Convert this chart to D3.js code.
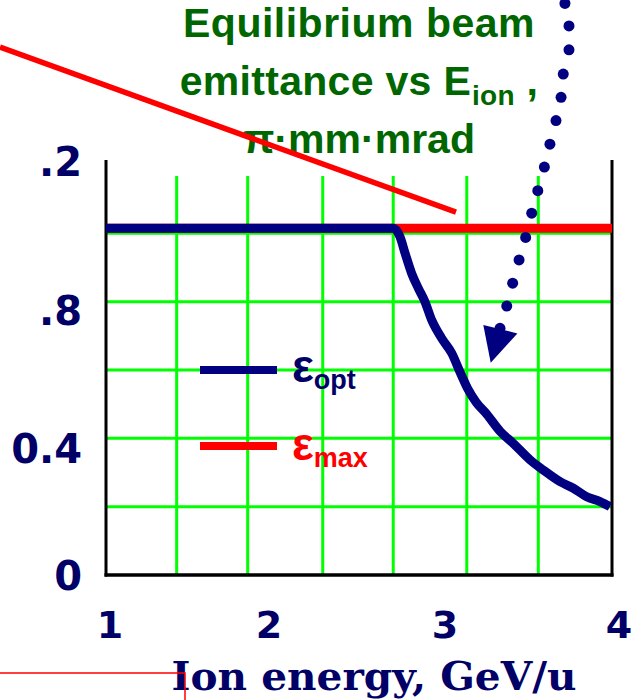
<!DOCTYPE html>
<html>
<head>
<meta charset="utf-8">
<script src="https://cdnjs.cloudflare.com/ajax/libs/d3/7.8.5/d3.min.js"></script>
<style>
  html, body { margin: 0; padding: 0; background: #ffffff; }
  svg { display: block; }
</style>
</head>
<body>
<div id="chart"></div>
<script>
// ---------------- DATA ----------------
const xTickValues = [1, 2, 3, 4];
const xTickLabels = ["1", "2", "3", "4"];
const yTickValues = [0, 0.4, 0.8, 1.2];
const yTickLabels = ["0", "0.4", ".8", ".2"];

const gridXValues = [1.419, 1.840, 2.285, 2.703, 3.139, 3.563];
const gridYValues = [0.2, 0.4, 0.6, 0.8, 1.0];

// epsilon_opt curve (GeV/u, pi*mm*mrad)
const optEnergy = [1.000, 2.702, 2.743, 2.773, 2.812, 2.852, 2.891, 2.931, 2.990, 3.050, 3.099, 3.146,
                   3.194, 3.257, 3.336, 3.415, 3.514, 3.593, 3.692, 3.771, 3.850, 3.929, 3.988];
const optEmittance = [1.015, 1.015, 0.990, 0.942, 0.883, 0.839, 0.800, 0.746, 0.693, 0.649, 0.594, 0.544,
                      0.506, 0.471, 0.421, 0.385, 0.337, 0.307, 0.273, 0.254, 0.229, 0.215, 0.200];

// epsilon_max
const maxEnergy = [1.0, 4.0];
const maxEmittance = [1.015, 1.015];

// red pointer line (annotation, in data units)
const pointerEnergy = [0.3715, 3.075];
const pointerEmittance = [1.545, 1.062];

// dotted arrow (annotation, in data units)
const dotEnergy = [3.721, 3.745, 3.745, 3.711, 3.698, 3.668, 3.632, 3.599, 3.560, 3.524, 3.488, 3.449, 3.411, 3.376, 3.336];
const dotEmittance = [1.673, 1.607, 1.537, 1.466, 1.398, 1.330, 1.261, 1.194, 1.125, 1.059, 0.988, 0.922, 0.854, 0.787, 0.722];
const headEnergy = [3.237, 3.439, 3.281];
const headEmittance = [0.732, 0.707, 0.621];

const titleLines = ["Equilibrium beam", "emittance vs E", "π·mm·mrad"];
const titleSub = "ion";
const xTitle = "Ion energy, GeV/u";
const legendNames = ["ε", "ε"];
const legendSubs = ["opt", "max"];

// ---------------- LAYOUT ----------------
const W = 635, H = 700;
const mLeft = 106, mRight = 612, mBottom = 575, mTop = 165, gridTop = 176, axisTop = 160;
const NAVY = "#000080", TEXTNAVY = "#000066", GREEN_T = "#006600", GRID = "#00ff00", RED = "#ff0000";

const svg = d3.select("#chart").append("svg").attr("width", W).attr("height", H)
  .style("background", "#fff");

const x = d3.scaleLinear().domain([1, 4]).range([mLeft, mRight]);
const y = d3.scaleLinear().domain([0, 1.2]).range([mBottom, mTop]);
// label placement scales (labels in the original sit slightly off their ticks)
const xLab = d3.scaleLinear().domain(xTickValues).range([110, 269, 445, 619]);
const yLab = d3.scaleLinear().domain(yTickValues).range([590, 463, 325, 176]);

// grid
svg.append("g").selectAll("line").data(gridXValues).join("line")
  .attr("x1", d => x(d)).attr("x2", d => x(d))
  .attr("y1", gridTop).attr("y2", mBottom)
  .attr("stroke", GRID).attr("stroke-width", 3);
svg.append("g").selectAll("line").data(gridYValues).join("line")
  .attr("x1", mLeft).attr("x2", mRight)
  .attr("y1", d => y(d)).attr("y2", d => y(d))
  .attr("stroke", GRID).attr("stroke-width", 3);

// axes frame
svg.append("line").attr("x1", mLeft).attr("x2", mLeft).attr("y1", axisTop).attr("y2", mBottom + 1.5)
  .attr("stroke", "#000").attr("stroke-width", 3);
svg.append("line").attr("x1", mRight).attr("x2", mRight).attr("y1", axisTop).attr("y2", mBottom + 1.5)
  .attr("stroke", "#000").attr("stroke-width", 3);
svg.append("line").attr("x1", mLeft - 1.5).attr("x2", mRight + 1.5).attr("y1", mBottom).attr("y2", mBottom)
  .attr("stroke", "#000").attr("stroke-width", 3.5);

// tick labels
svg.append("g").selectAll("text").data(yTickValues).join("text")
  .attr("x", 82).attr("y", d => yLab(d))
  .attr("text-anchor", "end")
  .attr("font-family", "'DejaVu Sans', Verdana, sans-serif")
  .attr("font-weight", "bold").attr("font-size", 40)
  .attr("fill", TEXTNAVY)
  .text((d, i) => yTickLabels[i]);

svg.append("g").selectAll("text").data(xTickValues).join("text")
  .attr("x", d => xLab(d)).attr("y", 638)
  .attr("text-anchor", "middle")
  .attr("font-family", "'DejaVu Sans', Verdana, sans-serif")
  .attr("font-weight", "bold").attr("font-size", 38)
  .attr("fill", TEXTNAVY)
  .text((d, i) => xTickLabels[i]);

// x axis title
svg.append("text").attr("x", 374).attr("y", 690)
  .attr("text-anchor", "middle")
  .attr("font-family", "'DejaVu Serif', 'Liberation Serif', serif")
  .attr("font-weight", "bold").attr("font-size", 40)
  .attr("textLength", 405).attr("lengthAdjust", "spacingAndGlyphs")
  .attr("fill", TEXTNAVY).text(xTitle);

// title
const tf = "'Liberation Sans', Arial, sans-serif";
svg.append("text").attr("x", 359).attr("y", 37).attr("text-anchor", "middle")
  .attr("font-family", tf).attr("font-weight", "bold").attr("font-size", 41)
  .attr("letter-spacing", 0.5).attr("fill", GREEN_T).text(titleLines[0]);
const t2 = svg.append("text").attr("x", 359).attr("y", 95).attr("text-anchor", "middle")
  .attr("font-family", tf).attr("font-weight", "bold").attr("font-size", 41)
  .attr("letter-spacing", 0.3).attr("fill", GREEN_T);
t2.append("tspan").text(titleLines[1]);
t2.append("tspan").attr("font-size", 28).attr("dy", 10).attr("dx", 1).text(titleSub);
t2.append("tspan").attr("dy", -10).text(" ,");
svg.append("text").attr("x", 359).attr("y", 153).attr("text-anchor", "middle")
  .attr("font-family", tf).attr("font-weight", "bold").attr("font-size", 41)
  .attr("fill", GREEN_T).text(titleLines[2]);

// line generator
const line = d3.line().x(d => x(d[0])).y(d => y(d[1]));

// red pointer line
svg.append("path").datum(d3.zip(pointerEnergy, pointerEmittance))
  .attr("d", line).attr("fill", "none").attr("stroke", RED).attr("stroke-width", 5.5);

// epsilon max
svg.append("path").datum(d3.zip(maxEnergy, maxEmittance))
  .attr("d", line).attr("fill", "none").attr("stroke", RED).attr("stroke-width", 9);

// epsilon opt
svg.append("path").datum(d3.zip(optEnergy, optEmittance))
  .attr("d", d3.line().x(d => x(d[0])).y(d => y(d[1])).curve(d3.curveMonotoneX))
  .attr("fill", "none").attr("stroke", NAVY).attr("stroke-width", 9)
  .attr("stroke-linejoin", "round");

// dotted arrow
svg.append("g").selectAll("circle").data(d3.zip(dotEnergy, dotEmittance)).join("circle")
  .attr("cx", d => x(d[0])).attr("cy", d => y(d[1])).attr("r", 5.5).attr("fill", NAVY);
svg.append("path").datum(d3.zip(headEnergy, headEmittance))
  .attr("d", d => line(d) + "Z").attr("fill", NAVY);

// legend
const legY = [370, 446];
const legColors = [NAVY, RED];
const legText = [TEXTNAVY, RED];
legY.forEach((ly, i) => {
  svg.append("line").attr("x1", 200).attr("x2", 277).attr("y1", ly).attr("y2", ly)
    .attr("stroke", legColors[i]).attr("stroke-width", 8);
  const t = svg.append("text").attr("x", 292).attr("y", ly + 12 + (i === 1 ? 2 : 0))
    .attr("font-family", tf).attr("font-weight", "bold").attr("font-size", 46)
    .attr("fill", legText[i]);
  t.append("tspan").text(legendNames[i]);
  t.append("tspan").attr("font-size", 27).attr("dy", 7).text(legendSubs[i]);
});

// decorative red frame at bottom-left
svg.append("path")
  .attr("d", `M0,673 H185 V${H}`)
  .attr("fill", "none").attr("stroke", RED).attr("stroke-width", 1.5);
</script>
</body>
</html>
